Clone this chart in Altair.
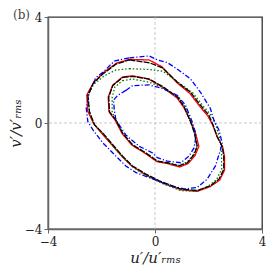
import altair as alt
import pandas as pd

# ---- data ----
series_names = ["black", "red", "green", "blue"]

bo_u = [-0.96,-0.20,0.28,0.84,1.33,1.70,2.01,2.17,2.32,2.51,2.57,2.57,2.39,2.07,1.58,0.96,0.46,0.16,-0.34,-0.84,-1.21,-1.58,-1.95,-2.26,-2.45,-2.51,-2.32,-1.95,-1.46,-0.96]
bo_v = [2.38,2.27,2.08,1.54,1.16,0.67,0.30,-0.07,-0.51,-0.88,-1.25,-1.75,-2.12,-2.37,-2.55,-2.49,-2.30,-2.18,-1.93,-1.62,-1.25,-0.82,-0.38,-0.07,0.42,1.04,1.48,1.85,2.22,2.38]
bi_u = [-1.21,-0.84,-0.22,0.28,0.84,1.09,1.33,1.47,1.58,1.46,1.21,0.90,0.46,0.09,-0.34,-0.84,-1.21,-1.46,-1.70,-1.73,-1.58,-1.21]
bi_v = [1.72,1.76,1.66,1.38,0.98,0.61,0.05,-0.37,-0.88,-1.19,-1.50,-1.62,-1.50,-1.44,-1.13,-0.82,-0.38,0.11,0.42,0.98,1.41,1.72]

ro_u = [-0.96,-0.22,0.26,0.82,1.30,1.67,1.98,2.16,2.33,2.53,2.60,2.60,2.42,2.07,1.58,0.96,0.46,0.14,-0.36,-0.86,-1.23,-1.60,-1.97,-2.30,-2.52,-2.55,-2.30,-1.93,-1.44,-0.96]
ro_v = [2.40,2.38,2.12,1.52,1.12,0.63,0.26,-0.09,-0.53,-0.90,-1.27,-1.78,-2.15,-2.40,-2.58,-2.52,-2.33,-2.20,-1.95,-1.63,-1.27,-0.84,-0.42,-0.02,0.46,1.06,1.52,1.90,2.26,2.40]
ri_u = [-1.21,-0.84,-0.24,0.26,0.82,1.08,1.35,1.52,1.64,1.50,1.24,0.92,0.46,0.07,-0.36,-0.86,-1.23,-1.48,-1.72,-1.75,-1.58,-1.21]
ri_v = [1.74,1.78,1.66,1.36,0.95,0.58,0.03,-0.40,-0.88,-1.22,-1.53,-1.66,-1.53,-1.46,-1.15,-0.84,-0.40,0.09,0.42,0.98,1.43,1.74]

go_u = [-0.96,-0.20,0.30,0.92,1.43,1.82,2.12,2.28,2.40,2.47,2.49,2.49,2.30,1.97,1.50,0.96,0.46,0.14,-0.36,-0.86,-1.23,-1.60,-1.95,-2.26,-2.45,-2.51,-2.30,-1.90,-1.46,-0.96]
go_v = [2.05,2.02,1.95,1.50,1.12,0.62,0.26,-0.08,-0.52,-0.88,-1.25,-1.75,-2.14,-2.40,-2.58,-2.55,-2.36,-2.22,-1.97,-1.64,-1.27,-0.84,-0.40,-0.07,0.42,1.04,1.45,1.78,2.00,2.05]
gi_u = [-1.21,-0.84,-0.22,0.30,0.88,1.14,1.36,1.48,1.56,1.44,1.20,0.90,0.46,0.09,-0.34,-0.84,-1.21,-1.46,-1.60,-1.60,-1.50,-1.21]
gi_v = [1.60,1.66,1.54,1.34,0.96,0.59,0.03,-0.38,-0.88,-1.19,-1.48,-1.60,-1.50,-1.44,-1.13,-0.82,-0.38,0.11,0.42,0.98,1.36,1.60]

lo_u = [-0.96,-0.22,0.09,0.46,0.84,1.33,1.70,2.07,2.20,2.39,2.51,2.45,2.26,1.95,1.58,1.09,0.59,0.09,-0.22,-0.71,-1.09,-1.46,-1.95,-2.32,-2.51,-2.57,-2.45,-2.21,-1.95,-1.52,-0.96]
lo_v = [2.46,2.53,2.38,2.28,2.03,1.66,1.16,0.55,0.11,-0.26,-0.75,-1.00,-1.62,-2.12,-2.43,-2.49,-2.37,-2.18,-2.06,-1.87,-1.62,-1.25,-0.75,-0.26,0.05,0.55,1.16,1.72,1.91,2.34,2.46]
li_u = [-1.09,-0.84,-0.22,0.28,0.84,1.14,1.39,1.52,1.52,1.46,1.27,0.96,0.46,0.09,-0.09,-0.59,-1.09,-1.46,-1.52,-1.55,-1.40,-1.09]
li_v = [1.23,1.41,1.44,1.30,1.04,0.67,0.05,-0.38,-0.57,-0.94,-1.25,-1.50,-1.44,-1.31,-1.13,-0.88,-0.45,0.11,0.48,0.86,1.04,1.23]

ticks = [-4, 0, 4]

contours = {
    "black": [(bo_u, bo_v), (bi_u, bi_v)],
    "red": [(ro_u, ro_v), (ri_u, ri_v)],
    "green": [(go_u, go_v), (gi_u, gi_v)],
    "blue": [(lo_u, lo_v), (li_u, li_v)],
}
styles = {
    "red": dict(color="#ff0000", strokeDash=[1, 0]),
    "green": dict(color="#008000", strokeDash=[1.5, 2]),
    "blue": dict(color="#0000ff", strokeDash=[5, 2, 1.2, 2]),
    "black": dict(color="#000000", strokeDash=[6, 1.2]),
}

rows = []
for s in series_names:
    for k, (us, vs) in enumerate(contours[s]):
        for i, (u, v) in enumerate(zip(us, vs)):
            rows.append(dict(series=s, contour=f"{s}{k}", i=i, u=u, v=v))
df = pd.DataFrame(rows)

xs = alt.Scale(domain=[-4, 4], nice=False)
ys = alt.Scale(domain=[-4, 4], nice=False)

common = dict(values=ticks, grid=False, tickSize=4,
              labelFont="DejaVu Serif", labelFontSize=12, labelColor="#222",
              titleFont="DejaVu Serif", titleFontSize=15, titleFontStyle="italic",
              titleFontWeight="normal", titleColor="#222",
              domainColor="#666", domainWidth=1.5, tickColor="#666", labelFlush=False)
xaxis = alt.Axis(title="u′/u′ᵣₘₛ", labelPadding=3, titlePadding=3, **common)
yaxis = alt.Axis(title="v′/v′ᵣₘₛ", labelPadding=2, titlePadding=1, **common)

zero = pd.DataFrame({"z": [0]})
vrule = alt.Chart(zero).mark_rule(color="#bbbbbb", strokeDash=[3, 2], strokeWidth=0.8).encode(
    x=alt.X("z:Q", scale=xs, axis=xaxis))
hrule = alt.Chart(zero).mark_rule(color="#bbbbbb", strokeDash=[3, 2], strokeWidth=0.8).encode(
    y=alt.Y("z:Q", scale=ys, axis=yaxis))

layers = [vrule, hrule]
for s in ["red", "green", "blue", "black"]:
    st = styles[s]
    layers.append(
        alt.Chart(df[df.series == s]).mark_line(color=st["color"], strokeDash=st["strokeDash"],
                                                strokeWidth=1.3).encode(
            x=alt.X("u:Q", scale=xs, axis=xaxis),
            y=alt.Y("v:Q", scale=ys, axis=yaxis),
            detail="contour:N",
            order="i:Q",
        )
    )

chart = alt.layer(*layers).properties(
    width=214, height=212,
    title=alt.TitleParams("(b)", anchor="start", frame="group", dx=-35, dy=8, offset=-3,
                          font="DejaVu Serif", fontSize=12, fontWeight="normal", color="#444"),
    autosize=alt.AutoSizeParams(type="none"),
    padding={"left": 40, "top": 9, "right": 4, "bottom": 37},
).configure_view(stroke="#333", strokeWidth=1.3)

chart.save("out.html", embed_options={"renderer": "svg", "actions": False})
